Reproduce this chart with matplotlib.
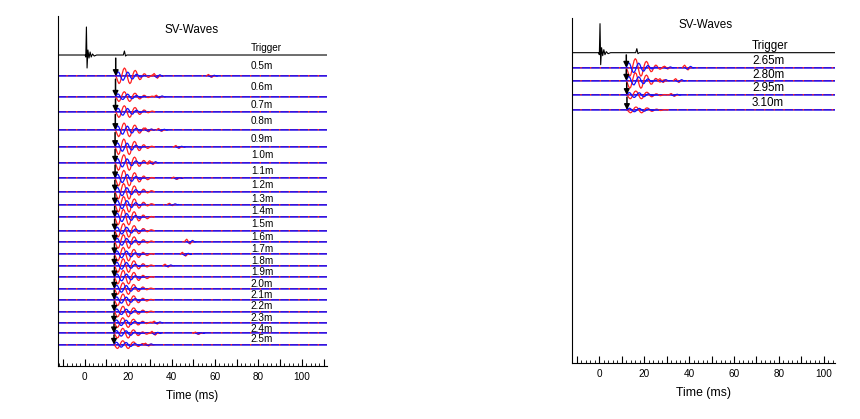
import numpy as np
import matplotlib
matplotlib.use("Agg")
import matplotlib.pyplot as plt
from matplotlib.ticker import MultipleLocator, FuncFormatter

plt.rcParams['font.family'] = ['Liberation Sans', 'DejaVu Sans']

# left panel: receiver distance, baseline row (px from top), arrival (ms), amplitudes (px)
left_labels = ["0.5m", "0.6m", "0.7m", "0.8m", "0.9m", "1.0m", "1.1m", "1.2m", "1.3m", "1.4m",
               "1.5m", "1.6m", "1.7m", "1.8m", "1.9m", "2.0m", "2.1m", "2.2m", "2.3m", "2.4m", "2.5m"]
left_rows = [76, 96.7, 111.7, 130, 147, 162.7, 178.3, 191.5, 204.5, 217.3, 230.5,
             241.7, 254.3, 265.7, 277.3, 288.7, 300, 311.7, 322.7, 333.3, 344.7]
left_arrival = [14.3, 14.2, 14.2, 14.1, 14.0, 14.0, 14.0, 13.9, 13.9, 13.8, 13.8,
                13.8, 13.7, 13.7, 13.7, 13.6, 13.6, 13.6, 13.5, 13.5, 13.5]
left_amp_red = [8, 5, 6, 7, 8, 8, 8, 8, 8, 8, 7, 7, 7, 7, 7, 6, 6, 5.5, 5, 5, 4]
left_amp_blue = [6, 4, 5, 6, 6, 6, 6, 6, 6, 6, 5, 5, 5, 5, 5, 5, 4.5, 4, 4, 4, 3.5]
# small late wiggles: (trace index, time ms, amplitude px)
left_late = [(0, 31, 2.5), (0, 56, 1.5), (1, 32, 1.5), (3, 27, 2), (3, 33, 1.5), (4, 41, 1.5),
             (5, 29, 2), (6, 40, 1.2), (8, 38, 1.2), (11, 46, 2.5), (12, 44, 2), (13, 36, 1.5),
             (18, 31, 1.5), (19, 30, 2), (19, 50, 1.2), (20, 27, 1.5)]

# right panel
right_labels = ["2.65m", "2.80m", "2.95m", "3.10m"]
right_rows = [67.7, 80.7, 95, 110]
right_arrival = [12.0, 12.0, 12.2, 12.3]
right_amp_red = [9, 8, 4, 3]
right_amp_blue = [7, 6, 3.5, 2.5]
right_late = [(0, 37, 2.5), (0, 28, 1.5), (1, 33, 2), (1, 26, 2), (2, 31, 1.5)]

# wavelet after the arrival, one value every 0.5 ms (up is positive)
red_shape = [0, -0.3, -0.7, -0.95, -0.8, -0.3, 0.3, 0.8, 1.0, 0.85, 0.35, -0.25, -0.75, -0.95,
             -0.8, -0.3, 0.25, 0.6, 0.7, 0.55, 0.15, -0.25, -0.45, -0.4, -0.15, 0.12, 0.28,
             0.25, 0.08, -0.1, -0.18, -0.12, 0, 0.08, 0.1, 0.05, 0]
blue_shape = [0, 0.4, 0.7, 0.6, 0.2, -0.3, -0.65, -0.7, -0.4, 0.05, 0.45, 0.65, 0.5, 0.1, -0.3,
              -0.5, -0.45, -0.15, 0.15, 0.3, 0.25, 0.05, -0.12, -0.18, -0.1, 0.02, 0.08, 0.06, 0]
late_shape = [0, 0.6, 1.0, 0.4, -0.5, -0.9, -0.4, 0.2, 0]

# trigger traces (ms, px up)
left_trig_t = [-12.3, 0.2, 0.5, 0.8, 1.1, 1.5, 2.0, 2.5, 3.0, 3.6, 4.4, 5.5, 17.8, 18.3, 18.8, 19.4, 111.4]
left_trig_v = [0, 0, -2, 28, -13, 5, -3, 3, -2, 1, -1, 0, 0, 4, -1, 0, 0]
right_trig_t = [-12.3, -0.3, 0.0, 0.3, 0.6, 1.0, 1.5, 2.0, 2.5, 3.1, 3.9, 5.0, 16.2, 16.7, 17.2, 17.8, 105]
right_trig_v = [0, 0, -2, 29, -12, 5, -3, 3, -2, 1, -1, 0, 0, 4, -1, 0, 0]

RED = '#ff2020'
BLUE = '#1010ff'


def draw_panel(ax, labels, rows, arrival, amp_r, amp_b, late, trig_row, trig_t, trig_v,
               xlim, ylim, label_x, title_x, title_y, fs):
    ax.plot(trig_t, trig_row - np.array(trig_v), color='k', lw=0.8)
    ax.text(label_x, trig_row - 7, "Trigger", fontsize=fs, va='center', ha='left')
    prev = trig_row
    for i in range(len(rows)):
        y = rows[i]
        a = arrival[i]
        # baseline: red under a broken blue line gives the speckled look
        ax.plot(xlim, [y, y], color=RED, lw=1.4, solid_capstyle='butt')
        ax.plot(xlim, [y, y], color=BLUE, lw=1.2, dashes=(5, 0.8))
        ax.plot(xlim, [y, y], color='#8080ff', lw=0.4)
        for shape, amp, col in [(red_shape, amp_r[i], RED), (blue_shape, amp_b[i], BLUE)]:
            t = a + np.arange(len(shape)) * 0.5
            ax.plot(t, y - amp * np.array(shape), color=col, lw=0.9)
        for k, tl, al in late:
            if k == i:
                t = tl + np.arange(len(late_shape)) * 0.5
                ax.plot(t, y - al * np.array(late_shape), color=RED, lw=0.9)
                ax.plot(t + 1.2, y + 0.6 * al * np.array(late_shape), color=BLUE, lw=0.8)
        ax.annotate('', xy=(a, y), xytext=(a, y - 0.85 * (y - prev)),
                    arrowprops=dict(arrowstyle='-|>', color='k', lw=1.1, mutation_scale=8,
                                    shrinkA=0, shrinkB=0))
        ax.text(label_x, (y + prev) / 2 + 0.5, labels[i], fontsize=fs, va='center', ha='left')
        prev = y
    ax.text(title_x, title_y, "SV-Waves", fontsize=8.4, ha='center', va='center')
    ax.set_xlim(xlim)
    ax.set_ylim(ylim)
    ax.spines['top'].set_visible(False)
    ax.spines['right'].set_visible(False)
    ax.set_yticks([])
    ax.xaxis.set_major_locator(MultipleLocator(10))
    ax.xaxis.set_minor_locator(MultipleLocator(2))
    ax.xaxis.set_major_formatter(FuncFormatter(lambda x, p: "%d" % x if round(x) % 20 == 0 else ""))
    ax.tick_params(axis='x', which='major', direction='in', length=5, width=0.8, labelsize=7.2, pad=4)
    ax.tick_params(axis='x', which='minor', direction='in', length=2.5, width=0.6)
    ax.set_xlabel("Time (ms)", fontsize=8.4, labelpad=6)


fig = plt.figure(figsize=(8.6, 4.19), dpi=100)
ax1 = fig.add_axes([0.0674, 0.1253, 0.3124, 0.8365])
ax2 = fig.add_axes([0.6648, 0.1337, 0.3062, 0.8234])

draw_panel(ax1, left_labels, left_rows, left_arrival, left_amp_red, left_amp_blue, left_late, 55,
           left_trig_t, left_trig_v, (-12.3, 111.4), (366.5, 16), 76.5, 49.2, 30, 7.2)
draw_panel(ax2, right_labels, right_rows, right_arrival, right_amp_red, right_amp_blue, right_late, 52.7,
           right_trig_t, right_trig_v, (-12.3, 105), (363, 18), 68, 47.2, 25, 8.4)
ax2.xaxis.label.set_size(8.8)

fig.savefig("out.png", dpi=100)
